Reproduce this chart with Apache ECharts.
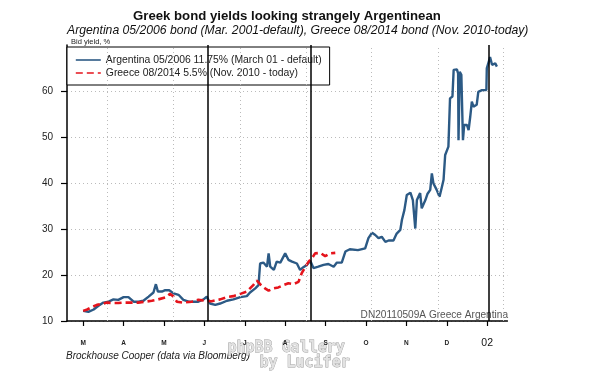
<!DOCTYPE html>
<html>
<head>
<meta charset="utf-8">
<script src="https://cdn.jsdelivr.net/npm/echarts@6/dist/echarts.min.js"></script>
<style>
  html, body { margin: 0; padding: 0; background: #fff; }
  #chart { width: 590px; height: 376px; }
</style>
</head>
<body>
<div id="chart"></div>
<script>
// x values are months from March 2001 (0 = M, 10 = Jan 2002)
var monthTicks = [0, 1, 2, 3, 4, 5, 6, 7, 8, 9, 10];
var monthLabels = ["M", "A", "M", "J", "J", "A", "S", "O", "N", "D", "02"];
var yTicks = [10, 20, 30, 40, 50, 60];
// dotted vertical grid (not on month ticks)
var gridLinesX = [0.6, 2.23, 3.88, 5.52, 7.14, 8.78, 10.4];
// black event lines
var eventLinesX = [3.08, 5.63, 10.05];

var argMonths = [0, 0.13, 0.26, 0.38, 0.5, 0.63, 0.75, 0.87, 1.0, 1.12, 1.25, 1.37, 1.49, 1.62, 1.74, 1.8, 1.85, 1.95,
  2.03, 2.13, 2.24, 2.36, 2.48, 2.61, 2.85, 2.98, 3.06, 3.14, 3.27, 3.39, 3.56, 3.72, 3.89, 4.05, 4.13, 4.26, 4.34,
  4.38, 4.46, 4.55, 4.59, 4.63, 4.72, 4.79, 4.88, 5.0, 5.08, 5.17, 5.29, 5.37, 5.45, 5.54, 5.62, 5.7, 5.82, 5.95,
  6.07, 6.2, 6.28, 6.4, 6.49, 6.6, 6.8, 6.98, 7.06, 7.15, 7.23, 7.31, 7.39, 7.48, 7.56, 7.68, 7.76, 7.85, 7.89, 7.95,
  8.01, 8.1, 8.16, 8.22, 8.26, 8.34, 8.38, 8.47, 8.52, 8.59, 8.63, 8.67, 8.75, 8.82, 8.88, 8.92, 8.96, 9.04, 9.08,
  9.14, 9.17, 9.25, 9.28, 9.29, 9.32, 9.36, 9.4, 9.43, 9.5, 9.54, 9.58, 9.62, 9.66, 9.74, 9.78, 9.87, 9.98, 9.99,
  10.05, 10.07, 10.12, 10.2, 10.24];
var argYields = [12.2, 12.0, 12.5, 13.3, 14.0, 14.2, 14.7, 14.6, 15.2, 15.2, 14.2, 14.2, 14.4, 15.3, 16.2, 18.0, 16.4, 16.4,
  16.7, 16.7, 16.0, 15.7, 14.6, 14.2, 14.2, 14.7, 15.3, 13.8, 13.5, 13.8, 14.4, 14.7, 15.2, 15.4, 16.2, 17.1, 17.8,
  22.5, 22.7, 21.8, 24.7, 21.8, 21.1, 22.9, 22.7, 24.7, 23.3, 22.9, 22.5, 21.1, 21.7, 22.2, 23.1, 21.5, 21.8, 22.2,
  22.4, 21.8, 22.7, 22.7, 25.1, 25.6, 25.4, 25.8, 28.0, 29.2, 28.7, 28.0, 28.3, 27.2, 27.5, 27.5, 29.0, 29.8, 32.0, 34.1,
  37.4, 37.9, 36.3, 30.1, 36.3, 37.8, 34.5, 36.3, 37.6, 38.5, 42.1, 39.9, 38.5, 37.0, 39.2, 40.7, 46.1, 47.9, 58.4,
  58.8, 64.6, 64.7, 63.8, 49.3, 64.2, 63.5, 49.3, 52.6, 52.6, 51.5, 54.4, 57.7, 56.6, 57.0, 59.8, 60.2, 60.2, 64.9,
  66.7, 67.4, 65.7, 66.0, 65.3];

var grcMonths = [0, 0.1, 0.21, 0.34, 0.46, 0.59, 0.75, 0.87, 1.0, 1.2, 1.36, 1.53, 1.7, 1.86, 2.03, 2.15, 2.24, 2.32,
  2.45, 2.69, 2.85, 3.02, 3.18, 3.39, 3.56, 3.72, 3.89, 4.05, 4.21, 4.3, 4.38, 4.5, 4.59, 4.72, 4.83, 4.96, 5.08, 5.2,
  5.33, 5.41, 5.5, 5.58, 5.66, 5.74, 5.87, 5.99, 6.11, 6.24];
var grcYields = [12.2, 12.5, 13.0, 13.5, 13.7, 14.0, 13.9, 13.9, 14.0, 14.0, 14.0, 14.2, 14.4, 14.7, 15.1, 15.9, 15.3, 14.2,
  14.0, 14.2, 14.6, 14.4, 14.3, 14.7, 15.2, 15.4, 15.9, 16.4, 17.8, 18.8, 18.0, 17.1, 16.6, 17.1, 17.3, 17.8, 18.2, 18.0,
  18.5, 20.4, 21.8, 22.9, 23.6, 24.7, 24.8, 24.1, 24.7, 24.8];

function zip(xs, ys) {
  return xs.map(function (x, i) { return [x, ys[i]]; });
}

var blue = "#2c5a85", red = "#e5141c";
var font = "Liberation Sans, Arial, sans-serif";
var argName = "Argentina 05/2006 11.75% (March 01 - default)";
var grcName = "Greece 08/2014 5.5% (Nov. 2010 - today)";

var chart = echarts.init(document.getElementById("chart"));
var option = {
  backgroundColor: "#fff",
  animation: false,
  textStyle: { fontFamily: font },
  grid: { left: 67, right: 82.6, top: 45, bottom: 55, containLabel: false },
  legend: {
    orient: "vertical",
    left: 67,
    top: 47,
    padding: [8, 8, 7, 8],
    itemGap: 3,
    itemWidth: 25,
    itemHeight: 11,
    itemStyle: { opacity: 0 },
    lineStyle: { width: 1.6 },
    backgroundColor: "#fff",
    borderColor: "#000",
    borderWidth: 1,
    textStyle: { fontSize: 10.4, color: "#222", fontFamily: font },
    data: [argName, grcName]
  },
  xAxis: {
    type: "value",
    min: -0.4,
    max: 10.5,
    axisLine: { onZero: false, lineStyle: { color: "#000", width: 1.5 } },
    axisTick: { length: 5, customValues: monthTicks, lineStyle: { color: "#000", width: 1.2 } },
    axisLabel: {
      customValues: monthTicks,
      margin: 22,
      verticalAlign: "middle",
      formatter: function (v) {
        var t = monthLabels[Math.round(v)];
        return t === "02" ? "{big|" + t + "}" : "{sm|" + t + "}";
      },
      rich: {
        sm: { fontSize: 6.5, color: "#222", fontWeight: "bold", fontFamily: font },
        big: { fontSize: 10.5, color: "#111", fontFamily: font }
      }
    },
    splitLine: { show: false }
  },
  yAxis: {
    type: "value",
    min: 10,
    max: 70,
    axisLine: { show: true, onZero: false, lineStyle: { color: "#000", width: 1.5 } },
    axisTick: { show: true, length: 6, customValues: yTicks, lineStyle: { color: "#000", width: 1.2 } },
    axisLabel: { customValues: yTicks, fontSize: 10, color: "#222", margin: 14 },
    splitLine: { show: true, lineStyle: { color: "#bbb", type: [1, 3], width: 1 } }
  },
  series: [
    {
      name: argName,
      type: "line",
      data: zip(argMonths, argYields),
      symbol: "none",
      color: blue,
      lineStyle: { color: blue, width: 2.4 },
      z: 3,
      markLine: {
        silent: true,
        symbol: "none",
        label: { show: false },
        data: gridLinesX.map(function (x) {
          return { xAxis: x, lineStyle: { color: "#bbb", width: 1, type: [1, 3] } };
        }).concat(eventLinesX.map(function (x) {
          return { xAxis: x, lineStyle: { color: "#000", width: 1.5, type: "solid" } };
        }))
      }
    },
    {
      name: grcName,
      type: "line",
      data: zip(grcMonths, grcYields),
      symbol: "none",
      color: red,
      lineStyle: { color: red, width: 2.6, type: [7, 4] },
      z: 4
    }
  ],
  graphic: [
    {
      type: "text", left: 133, top: 9.5,
      style: { text: "Greek bond yields looking strangely Argentinean", font: "bold 13.2px " + font, fill: "#111" }
    },
    {
      type: "text", left: 67, top: 24.5,
      style: { text: "Argentina 05/2006 bond (Mar. 2001-default), Greece 08/2014 bond (Nov. 2010-today)",
        font: "italic 12.2px " + font, fill: "#111" }
    },
    {
      type: "text", left: 71, top: 38,
      style: { text: "Bid yield, %", font: "7.5px " + font, fill: "#222" }
    },
    {
      type: "text", right: 82, top: 310,
      style: { text: "DN20110509A Greece Argentina", font: "10.1px " + font, fill: "#555" }
    },
    {
      type: "text", left: 66, top: 351,
      style: { text: "Brockhouse Cooper (data via Bloomberg)", font: "italic 10px " + font, fill: "#222" }
    },
    {
      type: "text", left: 227, top: 340,
      style: { text: "phpBB Gallery", font: "bold 15px DejaVu Sans Mono, monospace", fill: "#e2e2e2", stroke: "#9a9a9a", lineWidth: 0.8 }
    },
    {
      type: "text", left: 259, top: 355,
      style: { text: "by Lucifer", font: "bold 15px DejaVu Sans Mono, monospace", fill: "#e2e2e2", stroke: "#9a9a9a", lineWidth: 0.8 }
    }
  ]
};
chart.setOption(option);
</script>
</body>
</html>
